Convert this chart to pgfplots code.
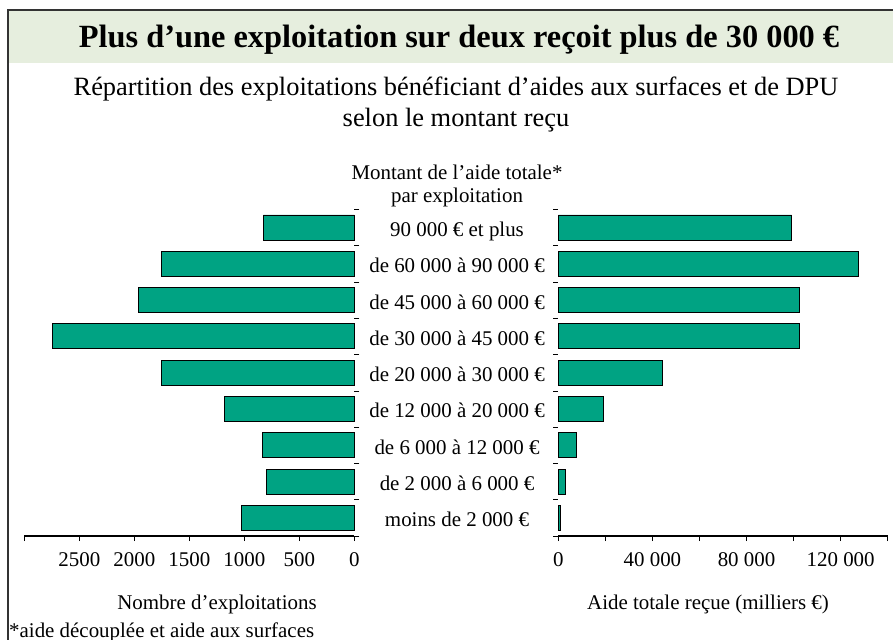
\documentclass[border=0pt]{standalone}
\usepackage{fontspec}
\setmainfont{Liberation Serif}
\usepackage{pgfplots}
\pgfplotsset{compat=1.18}
\definecolor{barteal}{RGB}{0,163,131}
\definecolor{bandgreen}{RGB}{230,238,222}
\newcommand{\fs}[1]{\fontsize{#1}{#1}\selectfont}

\pgfplotsset{
  pyr/.style={
    scale only axis, anchor=north west,
    height=326.7bp,
    ymin=0.5, ymax=9.5,
    ytick={0.5,1.5,...,9.5}, yticklabels={},
    xbar, bar width=25bp,
    tick align=outside, major tick length=5bp,
    tick style={black, line width=0.6bp},
    axis x line*=bottom,
    y axis line style={draw=none},
    x axis line style={black, line width=1.1bp},
    ticklabel style={font=\fs{21}},
    xticklabel style={anchor=base, yshift=-25.7bp},
    clip=false,
  },
}

\begin{document}
\begin{tikzpicture}
\begin{scope}[x=1bp,y=-1bp]
\path[use as bounding box] (0,0) rectangle (893,640);
\fill[bandgreen] (8,10) rectangle (893,63);
\draw[line width=1.3bp, black!80] (8,640) -- (8,10) -- (893,10);
\node[font=\fs{32.5}\bfseries, anchor=base] at (459,48) {Plus d’une exploitation sur deux reçoit plus de 30 000 €};
\node[font=\fs{26.5}, anchor=base] at (456,96) {Répartition des exploitations bénéficiant d’aides aux surfaces et de DPU};
\node[font=\fs{26.5}, anchor=base] at (456,127) {selon le montant reçu};
\node[font=\fs{21}, anchor=base] at (457,180) {Montant de l’aide totale*};
\node[font=\fs{21}, anchor=base] at (457,203) {par exploitation};
\node[font=\fs{21}, anchor=base] at (217,609) {Nombre d’exploitations};
\node[font=\fs{21}, anchor=base] at (708,609) {Aide totale reçue (milliers €)};
\node[font=\fs{21}, anchor=base west, inner sep=0pt] at (9,637) {*aide découplée et aide aux surfaces};
\end{scope}

\begin{axis}[pyr, at={(24.3bp,-209.3bp)}, width=330bp,
  x dir=reverse, xmin=0, xmax=3000,
  axis y line*=right,
  xtick={0,500,...,3000}, xticklabels={0,500,1000,1500,2000,2500,}]
\addplot[fill=barteal, draw=black, line width=0.8bp] coordinates {
  (1027,1) (796,2) (836,3) (1182,4) (1755,5) (2745,6) (1964,7) (1755,8) (827,9)};
\node[font=\fs{21}, anchor=base, yshift=-9bp] at (axis cs:-934,9) {90 000 € et plus};
\node[font=\fs{21}, anchor=base, yshift=-9bp] at (axis cs:-934,8) {de 60 000 à 90 000 €};
\node[font=\fs{21}, anchor=base, yshift=-9bp] at (axis cs:-934,7) {de 45 000 à 60 000 €};
\node[font=\fs{21}, anchor=base, yshift=-9bp] at (axis cs:-934,6) {de 30 000 à 45 000 €};
\node[font=\fs{21}, anchor=base, yshift=-9bp] at (axis cs:-934,5) {de 20 000 à 30 000 €};
\node[font=\fs{21}, anchor=base, yshift=-9bp] at (axis cs:-934,4) {de 12 000 à 20 000 €};
\node[font=\fs{21}, anchor=base, yshift=-9bp] at (axis cs:-934,3) {de 6 000 à 12 000 €};
\node[font=\fs{21}, anchor=base, yshift=-9bp] at (axis cs:-934,2) {de 2 000 à 6 000 €};
\node[font=\fs{21}, anchor=base, yshift=-9bp] at (axis cs:-934,1) {moins de 2 000 €};
\end{axis}

\begin{axis}[pyr, at={(558.3bp,-209.3bp)}, width=329.4bp,
  xmin=0, xmax=140000,
  axis y line*=left,
  xtick={0,20000,...,140000}, xticklabels={0,,40 000,,80 000,,120 000,},
  scaled x ticks=false]
\addplot[fill=barteal, draw=black, line width=0.8bp] coordinates {
  (1000,1) (3150,2) (7800,3) (19000,4) (44400,5) (102400,6) (102400,7) (127700,8) (99200,9)};
\end{axis}
\end{tikzpicture}
\end{document}
